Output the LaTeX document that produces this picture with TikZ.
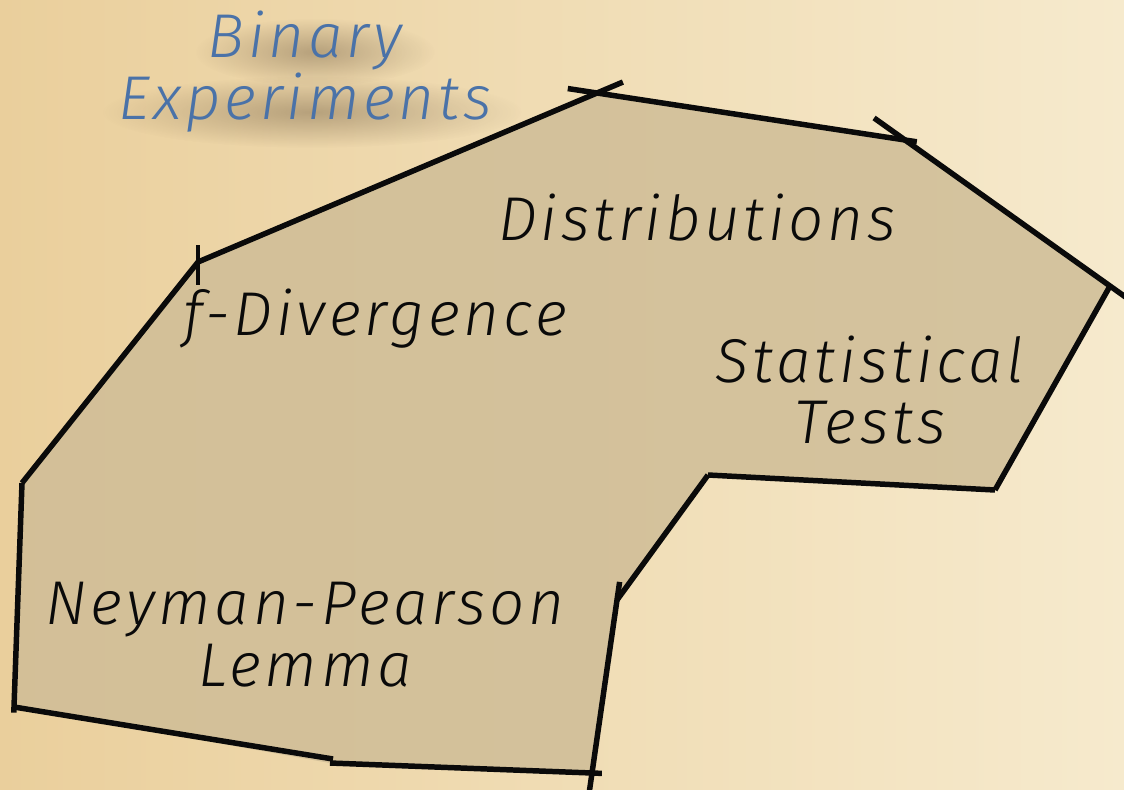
\documentclass[tikz,border=0pt]{standalone}
\usepackage{fontspec}
\setmainfont{Fira Sans Light}[ItalicFont=Fira Sans Light Italic,LetterSpace=6]
\usetikzlibrary{calc,fadings}
\definecolor{parchdark}{HTML}{EACF9C}
\definecolor{parchlite}{HTML}{F6EACD}
\definecolor{region}{HTML}{CFBD97}
\definecolor{ink}{HTML}{0A0A0A}
\definecolor{titleblue}{HTML}{4A72A8}
\tikzfading[name=softblob,inner color=transparent!0,outer color=transparent!100]

\begin{document}
\begin{tikzpicture}[x=0.025cm,y=-0.025cm,
 lbl/.style={align=center,font=\fontsize{44}{44}\selectfont\itshape,text=ink,inner sep=0pt},
 edge/.style={line width=3.9pt,draw=ink},
 tick/.style={line width=3pt,draw=ink}]
 \useasboundingbox (0,0) rectangle (1124,789);
 \shade[left color=parchdark,right color=parchlite] (0,0) rectangle (1124,789);
 \clip (0,0) rectangle (1124,789);
 \coordinate (p1) at (22,483);
 \coordinate (p2) at (198,262);
 \coordinate (p3) at (597,93);
 \coordinate (p4) at (905,140);
 \coordinate (p5) at (1110,286);
 \coordinate (p6) at (995,490);
 \coordinate (p7) at (708,475);
 \coordinate (p8) at (617,600);
 \coordinate (p9) at (592,773);
 \coordinate (q10) at (333,759);
 \coordinate (p10) at (330,763);
 \coordinate (p11) at (14,707);
 \fill[region,opacity=.85] (p1)--(p2)--(p3)--(p4)--(p5)--(p6)--(p7)--(p8)--(p9)--(p10)--(p11)--cycle;
 \draw[edge] (p1)--(p2);
 \draw[edge,shorten >=-20pt] (p2)--(p3);
 \draw[edge,shorten <=-21pt,shorten >=-8.5pt] (p3)--(p4);
 \draw[edge,shorten <=-27pt,shorten >=-20pt] (p4)--(p5);
 \draw[edge] (p6)--(p5);
 \draw[edge] (p7)--(p6);
 \draw[edge] (p8)--(p7);
 \draw[edge,shorten <=-14pt,shorten >=-13pt] (p9)--(p8);
 \draw[edge,shorten >=-7pt] (p10)--(p9);
 \draw[edge] (p11)--(q10);
 \draw[edge,shorten >=-4pt] (p1)--(p11);
 \coordinate (t1) at (198,245);
 \coordinate (t2) at (198,285);
 \draw[tick] (t1)--(t2);

 \coordinate (s1) at (315,52);
 \coordinate (s2) at (312,112);
 \fill[black!70!brown,opacity=.3,path fading=softblob] (s1) ellipse [x radius=120,y radius=34];
 \fill[black!70!brown,opacity=.3,path fading=softblob] (s2) ellipse [x radius=210,y radius=36];
 \node[lbl,text=titleblue] (title) at (305,72) {Binary\\Experiments};
 \node[lbl,anchor=base] (dist) at (697,240) {Distributions};
 \node[lbl,anchor=base] (fdiv) at (375,335) {f-Divergence};
 \node[lbl] (stat) at (870,390) {Statistical\\Tests};
 \node[lbl] (np) at (305,635) {Neyman-Pearson\\Lemma};
\end{tikzpicture}
\end{document}
